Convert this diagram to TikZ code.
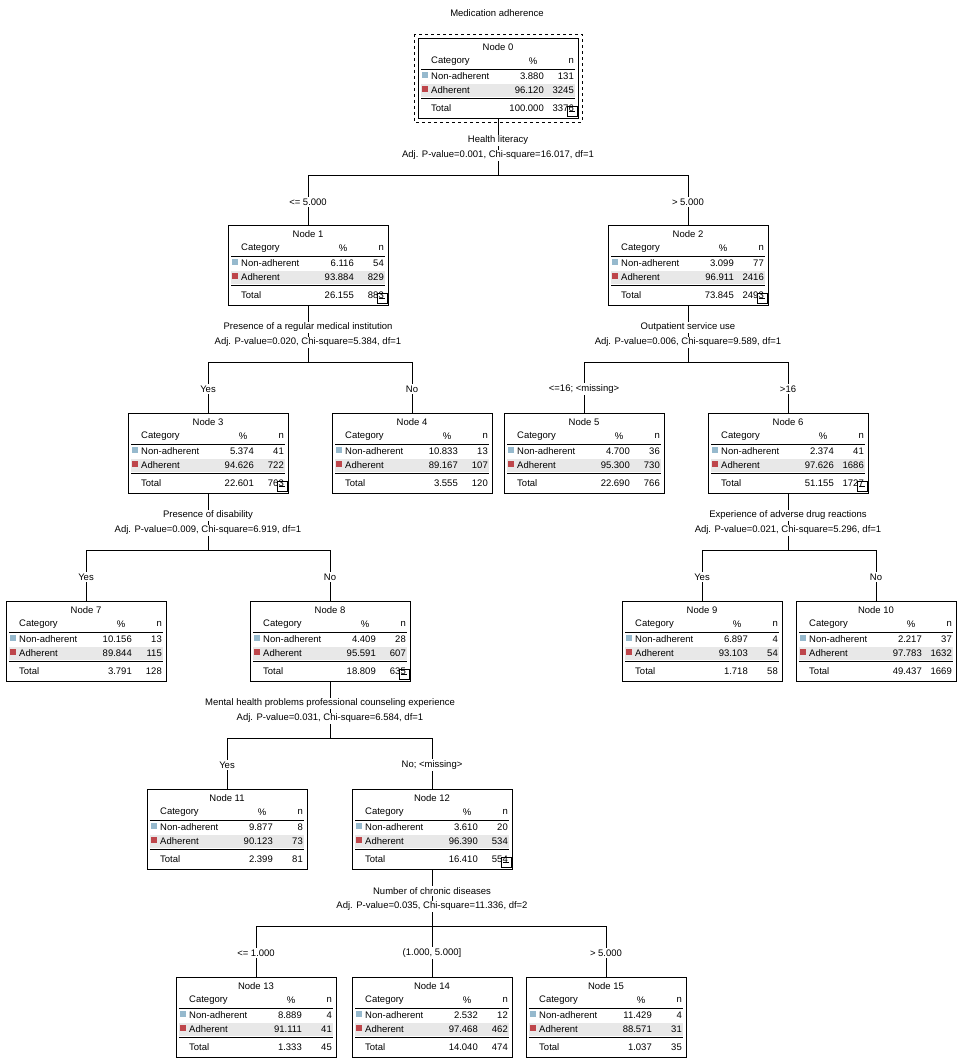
\documentclass[tikz,border=0pt]{standalone}
\usepackage{fontspec}
\setmainfont{Liberation Sans}
\usetikzlibrary{calc}
\definecolor{nonadh}{RGB}{150,185,205}
\definecolor{adh}{RGB}{190,70,75}
\definecolor{band}{RGB}{232,232,232}
\tikzset{
  treebox/.style={draw, line width=0.9pt, minimum width=160pt, minimum height=80pt, inner sep=0pt},
  cell/.style={inner sep=0pt, font=\fontsize{9.5}{11}\selectfont},
  split/.style={cell, align=center},
  branch/.style={cell, fill=white, inner sep=2pt},
  conn/.style={line width=0.6pt}
}
% \treenode{num}{x}{y}{%1}{n1}{%2}{n2}{%total}{ntotal}
\newcommand{\treenode}[9]{%
  \node[treebox] (n#1) at (#2+80,#3+40) {};
  \begin{scope}[shift={(#2,#3)}]
    \fill[band] (3,46) rectangle (157,59);
    \node[cell] at (80,9) {Node #1};
    \node[cell, anchor=west] at (13,23) {Category};
    \node[cell] at (115,23) {\%};
    \node[cell, anchor=east] at (156,23) {n};
    \draw[line width=0.6pt] (3,31) -- (157,31);
    \fill[nonadh] (4,34) rectangle (10,40);
    \node[cell, anchor=west] at (13,38) {Non-adherent};
    \node[cell, anchor=east] at (126,38) {#4};
    \node[cell, anchor=east] at (156,38) {#5};
    \fill[adh] (4,48) rectangle (10,54);
    \node[cell, anchor=west] at (13,52) {Adherent};
    \node[cell, anchor=east] at (126,52) {#6};
    \node[cell, anchor=east] at (156,52) {#7};
    \draw[line width=0.6pt] (3,60) -- (157,60);
    \node[cell, anchor=west] at (13,70) {Total};
    \node[cell, anchor=east] at (126,70) {#8};
    \node[cell, anchor=east] at (156,70) {#9};
  \end{scope}}
% collapse button under a split node
\newcommand{\minusbox}[1]{%
  \draw[line width=0.5pt] ($(#1.south east)+(-11,-2)$) rectangle ($(#1.south east)+(-1,-12)$);
  \draw[line width=0.5pt] ($(#1.south east)+(-9,-7)$) -- ($(#1.south east)+(-3,-7)$);}
\begin{document}
\begin{tikzpicture}[x=1pt, y=-1pt]
\useasboundingbox (0,0) rectangle (964,1064);

\node[cell] (title) at (497,13) {Medication adherence};

% Nodes
\treenode{0}{418}{38}{3.880}{131}{96.120}{3245}{100.000}{3376}
\draw[dashed, line width=0.6pt] (414,34) rectangle (582,122);
\treenode{1}{228}{225}{6.116}{54}{93.884}{829}{26.155}{883}
\treenode{2}{608}{225}{3.099}{77}{96.911}{2416}{73.845}{2493}
\treenode{3}{128}{413}{5.374}{41}{94.626}{722}{22.601}{763}
\treenode{4}{332}{413}{10.833}{13}{89.167}{107}{3.555}{120}
\treenode{5}{504}{413}{4.700}{36}{95.300}{730}{22.690}{766}
\treenode{6}{708}{413}{2.374}{41}{97.626}{1686}{51.155}{1727}
\treenode{7}{6}{601}{10.156}{13}{89.844}{115}{3.791}{128}
\treenode{8}{250}{601}{4.409}{28}{95.591}{607}{18.809}{635}
\treenode{9}{622}{601}{6.897}{4}{93.103}{54}{1.718}{58}
\treenode{10}{796}{601}{2.217}{37}{97.783}{1632}{49.437}{1669}
\treenode{11}{147}{789}{9.877}{8}{90.123}{73}{2.399}{81}
\treenode{12}{352}{789}{3.610}{20}{96.390}{534}{16.410}{554}
\treenode{13}{176}{977}{8.889}{4}{91.111}{41}{1.333}{45}
\treenode{14}{352}{977}{2.532}{12}{97.468}{462}{14.040}{474}
\treenode{15}{526}{977}{11.429}{4}{88.571}{31}{1.037}{35}

% Splits
\foreach \p/\q/\var/\stat in {
  0/175/Health literacy/{Adj. P-value=0.001, Chi-square=16.017, df=1},
  1/362/Presence of a regular medical institution/{Adj. P-value=0.020, Chi-square=5.384, df=1},
  2/362/Outpatient service use/{Adj. P-value=0.006, Chi-square=9.589, df=1},
  3/550/Presence of disability/{Adj. P-value=0.009, Chi-square=6.919, df=1},
  6/550/Experience of adverse drug reactions/{Adj. P-value=0.021, Chi-square=5.296, df=1},
  8/738/Mental health problems professional counseling experience/{Adj. P-value=0.031, Chi-square=6.584, df=1},
  12/926/Number of chronic diseases/{Adj. P-value=0.035, Chi-square=11.336, df=2}} {
  \coordinate (b\p) at (n\p.south |- 0,\q);
  \draw[conn] (n\p.south) -- (b\p);
  \node[split, fill=white, inner sep=1.5pt] (v\p) at ($(n\p.south)+(0,22)$) {\var};
  \node[split, fill=white, inner sep=1.5pt] (s\p) at ($(n\p.south)+(0,37)$) {\stat};
  \minusbox{n\p}
}

% Branches
\foreach \p/\c/\lab in {0/1/{<= 5.000}, 0/2/{> 5.000},
  1/3/Yes, 1/4/No, 2/5/{<=16; <missing>}, 2/6/{>16},
  3/7/Yes, 3/8/No, 6/9/Yes, 6/10/No,
  8/11/Yes, 8/12/{No; <missing>},
  12/13/{<= 1.000}, 12/14/{(1.000, 5.000]}, 12/15/{> 5.000}} {
  \coordinate (t\c) at (n\c.north |- b\p);
  \draw[conn] (b\p) -- (t\c) -- (n\c.north);
  \node[branch] (l\c) at ($(t\c)+(0,27)$) {\lab};
}
\end{tikzpicture}
\end{document}
